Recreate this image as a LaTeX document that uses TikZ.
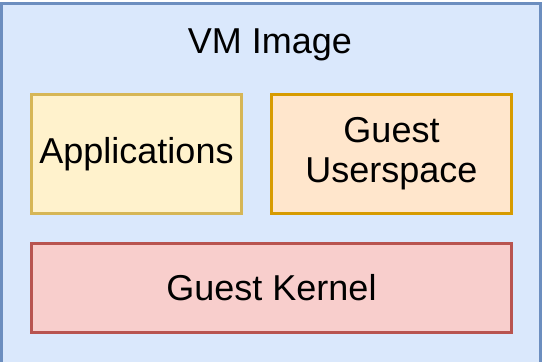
\documentclass[tikz,border=0pt]{standalone}
\usepackage{fontspec}
\setmainfont{Liberation Sans}
\definecolor{vmfill}{HTML}{DAE8FC}
\definecolor{vmline}{HTML}{6C8EBF}
\definecolor{appfill}{HTML}{FFF2CC}
\definecolor{appline}{HTML}{D6B656}
\definecolor{usrfill}{HTML}{FFE6CC}
\definecolor{usrline}{HTML}{D79B00}
\definecolor{kerfill}{HTML}{F8CECC}
\definecolor{kerline}{HTML}{B85450}
\tikzset{
  layer/.style={line width=3pt, inner sep=0pt, align=center,
    font=\fontsize{36}{40}\selectfont},
  label/.style={inner sep=0pt, font=\fontsize{36}{40}\selectfont}
}
\begin{document}
\begin{tikzpicture}[x=1pt, y=-1pt]
  \useasboundingbox (0,0) rectangle (542,362);
  \fill[white] (0,0) rectangle (542,362);
  \begin{scope}
    \clip (0,0) rectangle (542,362);
    % outer image container, its lower edge runs past the page
    \draw[line width=3pt, draw=vmline, fill=vmfill] (1.5,3.5) rectangle (540.5,380);
  \end{scope}
  \node[label] (title) at (270,45) {VM Image};
  \draw[layer, draw=appline, fill=appfill] (31.5,94.5) rectangle (241.5,213)
    node[midway] (apps) {Applications};
  \draw[layer, draw=usrline, fill=usrfill] (271.5,94.5) rectangle (511.5,213)
    node[midway] (user) {Guest\\Userspace};
  \draw[layer, draw=kerline, fill=kerfill] (31.5,243.5) rectangle (511.5,332.5)
    node[midway] (kern) {Guest Kernel};
\end{tikzpicture}
\end{document}
